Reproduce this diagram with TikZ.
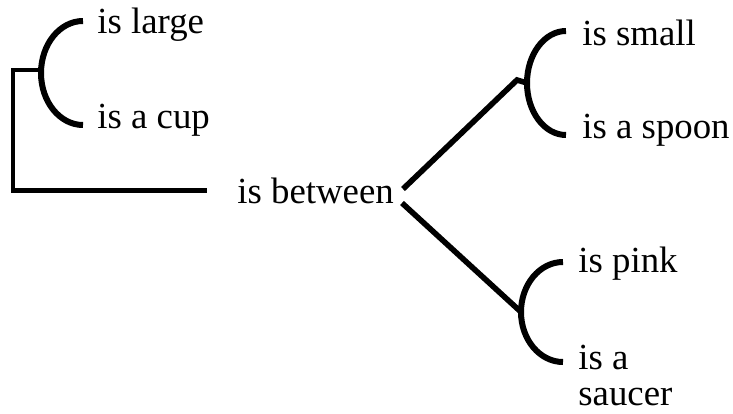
\documentclass[tikz,border=0pt]{standalone}
\usepackage{fontspec}
\setmainfont{Liberation Serif}
\begin{document}
\begin{tikzpicture}[x=0.5pt, y=0.5pt,
    lbl/.style={anchor=base west, inner sep=0pt, font=\fontsize{18.4}{18}\selectfont},
    wire/.style={line width=2.1pt},
    slant/.style={line width=2.8pt},
    hook/.style={line width=3pt}]
  \useasboundingbox (0,0) rectangle (733,-413);
  % cặp bên trái
  \node[lbl] (large) at (97,-33) {is large};
  \node[lbl] (cup) at (97,-128) {is a cup};
  \coordinate (topA) at (83,-21);
  \coordinate (jA) at (41,-70);
  \draw[hook] (topA) arc[start angle=90, end angle=270, x radius=42, y radius=52];
  % nút giữa
  \node[lbl] (between) at (237,-203) {is between};
  \draw[wire] (jA) -- ++(-28,0) |- ([xshift=-15pt]between.west);
  % cặp phía trên bên phải
  \node[lbl] (small) at (582,-45) {is small};
  \node[lbl] (spoon) at (582,-138) {is a spoon};
  \coordinate (topB) at (566,-31);
  \coordinate (jB) at (527,-83);
  \draw[hook] (topB) arc[start angle=90, end angle=270, x radius=39, y radius=52];
  % cặp phía dưới bên phải
  \node[lbl] (pink) at (578,-272) {is pink};
  \node[lbl, align=left] (saucer) at (578,-405) {is a\\saucer};
  \coordinate (topC) at (563,-262);
  \coordinate (jC) at (521,-312);
  \draw[hook] (topC) arc[start angle=90, end angle=270, x radius=42, y radius=50];
  % hai nhánh xiên
  \coordinate (bUp) at (403,-189);
  \coordinate (bDn) at (402,-203);
  \draw[slant] (bUp) -- (517,-80) -- (jB);
  \draw[slant] (bDn) -- (jC);
\end{tikzpicture}
\end{document}
